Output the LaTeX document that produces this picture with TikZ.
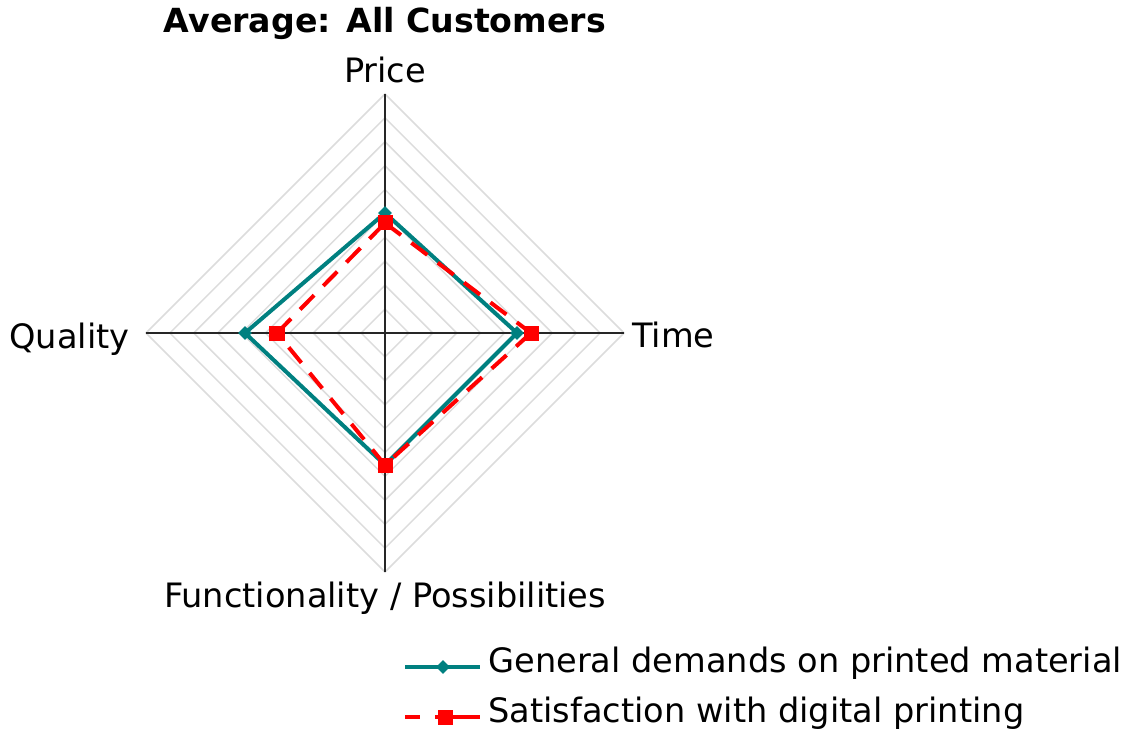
\documentclass[tikz,border=0pt]{standalone}
\usepackage{fontspec}
\setmainfont{DejaVu Sans}
\usepackage{tikz}
\usetikzlibrary{
    shapes.geometric
}
\definecolor{demandcol}{RGB}{0,128,128}
\definecolor{gridcol}{RGB}{220,220,220}

\begin{document}
\begin{tikzpicture}[x=0.5pt,y=0.5pt,
    lbl/.style={font=\fontsize{16.8}{20}\selectfont, inner sep=0pt},
    demand/.style={demandcol, line width=2pt, line join=miter},
    satisf/.style={red, line width=2pt, dash pattern=on 10pt off 6.5pt},
    dmark/.style={diamond, fill=demandcol, inner sep=0pt, minimum size=7pt},
    smark/.style={rectangle, fill=red, inner sep=0pt, minimum size=7.5pt}]
\useasboundingbox (-385,-406) rectangle (738,333);

% Grid
\foreach \r in {1,...,10}
  \draw[gridcol, line width=0.75pt] (0,\r*23.9) -- (\r*23.9,0) -- (0,-\r*23.9) -- (-\r*23.9,0) -- cycle;

% Axes
\coordinate (axP) at (0,239);
\coordinate (axT) at (239,0);
\coordinate (axF) at (0,-239);
\coordinate (axQ) at (-239,0);
\draw[black!85, line width=1pt] (axP) -- (axF);
\draw[black!85, line width=1pt] (axQ) -- (axT);

% Labels
\node[font=\bfseries\fontsize{16.6}{20}\selectfont, inner sep=0pt, anchor=base] (title) at (0,300) {Average: All Customers};
\node[lbl, anchor=base] (price) at (0,250) {Price};
\node[lbl, anchor=base west] (time) at (247,-14) {Time};
\node[lbl, anchor=base] (func) at (0,-274) {Functionality / Possibilities};
\node[lbl, anchor=base east] (quality) at (-255,-15) {Quality};

% General demands
\coordinate (gP) at (0,120);
\coordinate (gT) at (132,0);
\coordinate (gF) at (0,-132);
\coordinate (gQ) at (-140,0);
\draw[demand] (gP) -- (gT) -- (gF) -- (gQ) -- cycle;
\foreach \p in {gP,gT,gF,gQ}
  \node[dmark] at (\p) {};

% Satisfaction
\coordinate (sP) at (0,110);
\coordinate (sT) at (146,0);
\coordinate (sF) at (0,-132);
\coordinate (sQ) at (-108,0);
\draw[satisf] (sP) -- (sT);
\draw[satisf] (sT) -- (sF);
\draw[satisf] (sF) -- (sQ);
\draw[satisf] (sQ) -- (sP);
\foreach \p in {sP,sT,sF,sQ}
  \node[smark] at (\p) {};

% Legend
\coordinate (l1a) at (20,-334);
\coordinate (l1b) at (95,-334);
\draw[demand] (l1a) -- (l1b);
\node[dmark] (m1) at (58,-334) {};
\node[lbl, anchor=base west] (leg1) at (103,-339) {General demands on printed material};

\coordinate (l2a) at (20,-384);
\coordinate (l2b) at (35,-384);
\coordinate (l2c) at (50,-384);
\coordinate (l2d) at (95,-384);
\draw[red, line width=2pt] (l2a) -- (l2b);
\draw[red, line width=2pt] (l2c) -- (l2d);
\node[smark] (m2) at (60,-384) {};
\node[lbl, anchor=base west] (leg2) at (103,-389) {Satisfaction with digital printing};
\end{tikzpicture}
\end{document}
